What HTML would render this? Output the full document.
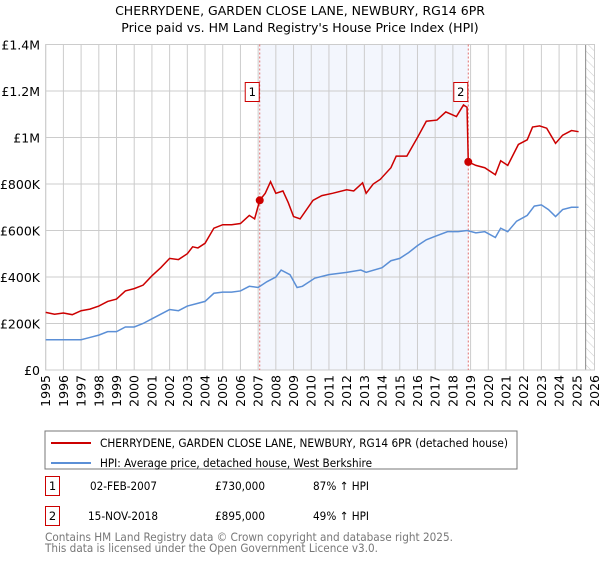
<!DOCTYPE html>
<html><head><meta charset="utf-8"><style>
body{margin:0;background:#fff;font-family:"Liberation Sans","DejaVu Sans",sans-serif;}
svg text{font-family:"DejaVu Sans","Liberation Sans",sans-serif;}
</style></head><body>
<svg id="c" width="600" height="560" xmlns="http://www.w3.org/2000/svg">
<defs><pattern id="hatch" width="6" height="6" patternUnits="userSpaceOnUse" patternTransform="rotate(-45)"><line x1="0" y1="0" x2="0" y2="6" stroke="#ccc" stroke-width="1"/></pattern></defs>
<text x="300" y="15" text-anchor="middle" font-size="12.5">CHERRYDENE, GARDEN CLOSE LANE, NEWBURY, RG14 6PR</text>
<text x="300" y="32" text-anchor="middle" font-size="12.5">Price paid vs. HM Land Registry's House Price Index (HPI)</text>
<g id="plot"></g>
<rect x="45" y="431" width="472" height="38" fill="#fff" stroke="#777"/>
<line x1="51" y1="443" x2="91" y2="443" stroke="#cc0000" stroke-width="2"/>
<text x="100" y="447" font-size="11.5" textLength="408" lengthAdjust="spacingAndGlyphs">CHERRYDENE, GARDEN CLOSE LANE, NEWBURY, RG14 6PR (detached house)</text>
<line x1="51" y1="463" x2="91" y2="463" stroke="#5b8fd6" stroke-width="2"/>
<text x="100" y="467" font-size="11.5" textLength="272" lengthAdjust="spacingAndGlyphs">HPI: Average price, detached house, West Berkshire</text>
<rect x="45.5" y="476.5" width="14" height="19" fill="#fff" stroke="#cc0000"/>
<text x="52.5" y="490" text-anchor="middle" font-size="11.5">1</text>
<text x="90" y="490" font-size="11.5" textLength="67" lengthAdjust="spacingAndGlyphs">02-FEB-2007</text>
<text x="215" y="490" font-size="11.5" textLength="50" lengthAdjust="spacingAndGlyphs">£730,000</text>
<text x="313" y="490" font-size="11.5" textLength="56" lengthAdjust="spacingAndGlyphs">87% ↑ HPI</text>
<rect x="45.5" y="506.5" width="14" height="19" fill="#fff" stroke="#cc0000"/>
<text x="52.5" y="520" text-anchor="middle" font-size="11.5">2</text>
<text x="88" y="520" font-size="11.5" textLength="70" lengthAdjust="spacingAndGlyphs">15-NOV-2018</text>
<text x="215" y="520" font-size="11.5" textLength="50" lengthAdjust="spacingAndGlyphs">£895,000</text>
<text x="313" y="520" font-size="11.5" textLength="56" lengthAdjust="spacingAndGlyphs">49% ↑ HPI</text>
<text x="45" y="541" font-size="11.5" fill="#777" textLength="408" lengthAdjust="spacingAndGlyphs">Contains HM Land Registry data © Crown copyright and database right 2025.</text>
<text x="45" y="552" font-size="11.5" fill="#777" textLength="333" lengthAdjust="spacingAndGlyphs">This data is licensed under the Open Government Licence v3.0.</text>
</svg>
<script>
const yTicks=[0,200000,400000,600000,800000,1000000,1200000,1400000];
const yTickLabels=["£0","£200K","£400K","£600K","£800K","£1M","£1.2M","£1.4M"];
const xYears=[1995,1996,1997,1998,1999,2000,2001,2002,2003,2004,2005,2006,2007,2008,2009,2010,2011,2012,2013,2014,2015,2016,2017,2018,2019,2020,2021,2022,2023,2024,2025,2026];
const redT=[1995.0,1995.5,1996.0,1996.5,1997.0,1997.5,1998.0,1998.5,1999.0,1999.5,2000.0,2000.5,2001.0,2001.5,2002.0,2002.5,2003.0,2003.3,2003.6,2004.0,2004.5,2005.0,2005.5,2006.0,2006.5,2006.8,2007.09,2007.4,2007.7,2008.0,2008.4,2008.7,2009.0,2009.37,2010.1,2010.6,2011.2,2012.0,2012.4,2012.9,2013.1,2013.5,2013.9,2014.5,2014.8,2015.4,2016.0,2016.5,2017.1,2017.6,2018.2,2018.6,2018.8,2018.87,2019.3,2019.8,2020.4,2020.7,2021.1,2021.7,2022.2,2022.5,2022.9,2023.3,2023.8,2024.2,2024.7,2025.1];
const redV=[248,240,245,238,255,262,275,295,305,340,350,365,405,440,480,475,500,530,525,545,610,625,625,630,665,650,730,760,810,760,770,720,660,650,730,750,760,775,770,805,760,800,820,870,920,920,1000,1070,1075,1110,1090,1140,1130,895,880,870,840,900,880,970,990,1045,1050,1040,975,1010,1030,1025];
const hpiT=[1995,1996,1997,1997.5,1998,1998.5,1999,1999.5,2000,2000.5,2001,2001.5,2002,2002.5,2003,2003.5,2004,2004.5,2005,2005.5,2006,2006.5,2007,2007.5,2008,2008.3,2008.8,2009.2,2009.5,2010.2,2011,2012,2012.8,2013.1,2014,2014.5,2015,2015.5,2016,2016.5,2017,2017.7,2018.3,2018.8,2019.3,2019.8,2020.4,2020.7,2021.1,2021.6,2022.2,2022.6,2023,2023.4,2023.8,2024.2,2024.7,2025.1];
const hpiV=[130,130,130,140,150,165,165,185,185,200,220,240,260,255,275,285,295,330,335,335,340,360,355,380,400,430,410,355,360,395,410,420,430,420,440,470,480,505,535,560,575,595,595,600,590,595,570,610,595,640,665,705,710,690,660,690,700,700];
const saleT=[2007.09,2018.87];
const saleV=[730000,895000];
const saleLabels=["1","2"];
const X0=45.7,X1=594.5,Y0=370,Y1=44.5;
const sx=t=>X0+(t-1995)/31*(X1-X0);
const sy=v=>Y0-v/1400000*(Y0-Y1);
const NS="http://www.w3.org/2000/svg";
const g=document.getElementById('plot');
function mk(tag,attrs){const e=document.createElementNS(NS,tag);for(const k in attrs)e.setAttribute(k,attrs[k]);g.appendChild(e);return e;}
let e;
e=mk('rect',{x:sx(saleT[0]),y:Y1,width:sx(saleT[1])-sx(saleT[0]),height:Y0-Y1,fill:'#f3f6fd'});


e=mk('rect',{x:sx(2025.5),y:Y1,width:X1-sx(2025.5),height:Y0-Y1,fill:'url(#hatch)'});


yTicks.forEach((v,i)=>{
 e=mk('line',{x1:X0,x2:X1,y1:sy(v),y2:sy(v),stroke:'#ccc'});
 
 
 e=mk('text',{x:40,y:sy(v)+5,'text-anchor':'end','font-size':12.5});
 e.textContent=yTickLabels[i];
 
 
});
xYears.forEach(yr=>{
 e=mk('line',{x1:sx(yr),x2:sx(yr),y1:Y1,y2:Y0,stroke:'#ccc'});
 
 
 const tx=sx(yr)+4.5,ty=375;
 e=mk('text',{x:tx,y:ty,'text-anchor':'end','font-size':12.5,transform:`rotate(-90 ${tx} ${ty})`});
 e.textContent=yr;
 
 
});
e=mk('line',{x1:sx(2025.5),x2:sx(2025.5),y1:Y1,y2:Y0,stroke:'#888'});


e=mk('rect',{x:X0,y:Y1,width:X1-X0,height:Y0-Y1,fill:'none',stroke:'#ccc'});


saleT.forEach((t,i)=>{
 e=mk('line',{x1:sx(t),x2:sx(t),y1:Y1,y2:Y0,stroke:'#e07070','stroke-dasharray':'2,2'});
 
 
});
e=mk('polyline',{points:hpiT.map((t,i)=>sx(t)+','+sy(hpiV[i]*1000)).join(' '),fill:'none',stroke:'#5b8fd6','stroke-width':1.5});


e=mk('polyline',{points:redT.map((t,i)=>sx(t)+','+sy(redV[i]*1000)).join(' '),fill:'none',stroke:'#cc0000','stroke-width':1.5});


saleT.forEach((t,i)=>{
 e=mk('circle',{cx:sx(t),cy:sy(saleV[i]),r:4,fill:'#cc0000'});
 
 
 e=mk('rect',{x:sx(t)-14.5,y:82.5,width:14,height:19,fill:'#fff',stroke:'#cc0000'});
 
 
 e=mk('text',{x:sx(t)-7.5,y:96,'text-anchor':'middle','font-size':11.5});
 e.textContent=saleLabels[i];
 
 
});
</script>
</body></html>
